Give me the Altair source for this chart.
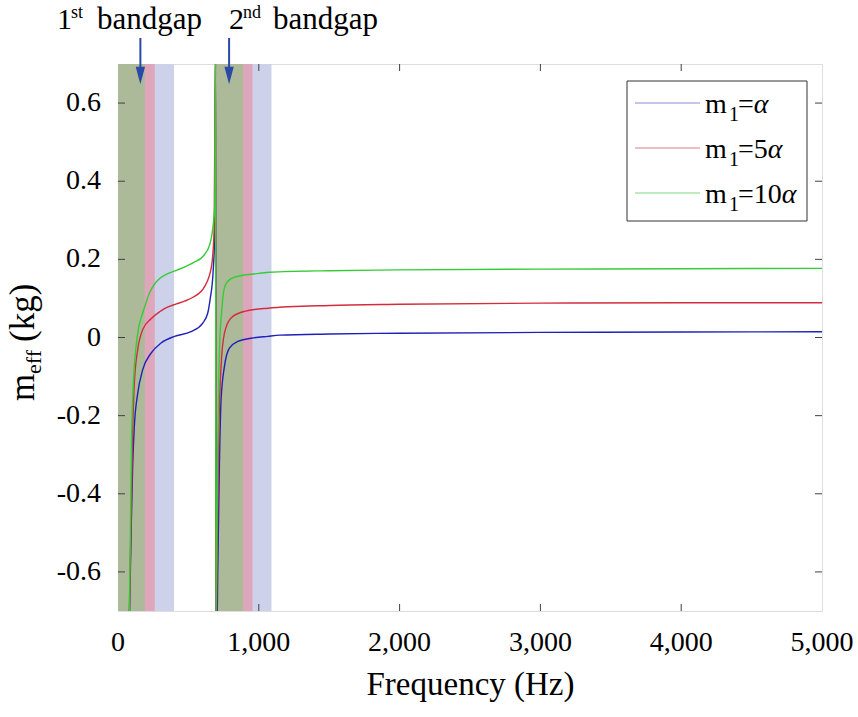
import altair as alt
import pandas as pd

SERIF = "Liberation Serif"

# ---------------- data ----------------
series_names = ["m1=α", "m1=5α", "m1=10α"]
series_colors = ["#2020B8", "#D42C3C", "#36CC36"]
legend_colors = ["#8C8CD8", "#E07C88", "#7CDC7C"]
legend_coefs = ["", "5", "10"]

# m1 = alpha (blue)
f_blue = [78, 82, 93, 104, 116, 140, 175, 235, 306, 401, 519, 602, 637, 654, 675, 687, 693,
          695, 704, 709, 720, 732, 756, 791, 851, 945, 1064, 1150, 1500, 2000, 3000, 4000, 5000]
v_blue = [-0.75, -0.70, -0.50, -0.33, -0.228, -0.143, -0.083, -0.040, -0.014, 0.003, 0.015, 0.037, 0.062, 0.097, 0.165, 0.268, 0.75,
          -0.75, -0.72, -0.586, -0.33, -0.16, -0.074, -0.027, -0.010, -0.002, 0.003, 0.006, 0.009, 0.011, 0.013, 0.014, 0.0146]

# m1 = 5 alpha (red)
f_red = [77, 81, 91, 104, 116, 140, 175, 235, 296, 330, 415, 472, 533, 616, 664, 682, 693,
         695, 700, 708, 716, 732, 756, 803, 898, 1064, 1500, 2000, 3000, 4000, 5000]
v_red = [-0.75, -0.70, -0.50, -0.245, -0.117, -0.031, 0.020, 0.048, 0.066, 0.074, 0.086, 0.093, 0.103, 0.131, 0.182, 0.268, 0.75,
         -0.75, -0.70, -0.45, -0.245, -0.074, 0.011, 0.050, 0.067, 0.075, 0.082, 0.085, 0.088, 0.089, 0.089]

# m1 = 10 alpha (green)
f_green = [76, 80, 88, 97, 106, 116, 140, 175, 200, 225, 260, 296, 350, 415, 533, 604, 652, 675, 687, 693,
           695, 700, 708, 715, 722, 737, 758, 800, 870, 1000, 1078, 1500, 2000, 3000, 4000, 5000]
v_green = [-0.75, -0.70, -0.50, -0.245, -0.14, -0.074, 0.011, 0.062, 0.090, 0.115, 0.137, 0.151, 0.163, 0.172, 0.191, 0.208, 0.238, 0.285, 0.336, 0.75,
           -0.75, -0.60, -0.30, -0.12, -0.02, 0.07, 0.13, 0.150, 0.158, 0.164, 0.167, 0.171, 0.173, 0.175, 0.176, 0.177]

# band gaps (Hz) for each series
band_start = [0, 694, 0, 694, 0, 694]
band_end = [398, 1090, 261, 955, 190, 888]
band_colors = ["#CDD2EA", "#CDD2EA", "#DDA6BA", "#DDA6BA", "#ADBA9A", "#ADBA9A"]

arrow_freq = [159, 789]

x_ticks = [0, 1000, 2000, 3000, 4000, 5000]
x_tick_labels = ["0", "1,000", "2,000", "3,000", "4,000", "5,000"]
y_ticks = [-0.6, -0.4, -0.2, 0, 0.2, 0.4, 0.6]
y_tick_labels = ["-0.6", "-0.4", "-0.2", "0", "0.2", "0.4", "0.6"]

# ---------------- tables ----------------
lines_df = pd.concat([
    pd.DataFrame({"f": f_blue, "v": v_blue, "s": series_names[0]}),
    pd.DataFrame({"f": f_red, "v": v_red, "s": series_names[1]}),
    pd.DataFrame({"f": f_green, "v": v_green, "s": series_names[2]}),
], ignore_index=True)
bands_df = pd.DataFrame({"f": band_start, "b": band_end, "v": [-0.7] * 6, "v2": [0.7] * 6,
                         "c": band_colors, "k": range(len(band_start))})
arrow_df = pd.DataFrame({"f": arrow_freq})
xt_df = pd.DataFrame({"f": x_ticks[1:-1]})
yt_df = pd.DataFrame({"v": y_ticks})
xl_df = pd.DataFrame({"f": x_ticks, "lab": x_tick_labels})
yl_df = pd.DataFrame({"v": y_ticks, "lab": y_tick_labels})
dummy = pd.DataFrame({"a": [0]})

W, H = 704, 547
xs = alt.Scale(domain=[0, 5000], nice=False, zero=False)
ys = alt.Scale(domain=[-0.7, 0.7], nice=False, zero=False)

x_axis = alt.Axis(
    values=x_ticks, labels=False, ticks=False, domain=False, grid=False,
    title="Frequency (Hz)", titleFont=SERIF, titleFontSize=33, titleFontWeight="normal",
    titleColor="black", titleY=83, titleBaseline="alphabetic")
y_axis = alt.Axis(values=y_ticks, labels=False, ticks=False, domain=False, grid=False, title=None)

XF = alt.X("f:Q", scale=xs, axis=x_axis)
YV = alt.Y("v:Q", scale=ys, axis=y_axis)

bands = alt.Chart(bands_df).mark_rect(opacity=1).encode(
    x=XF, x2="b:Q", y=YV, y2="v2:Q",
    color=alt.Color("c:N", scale=None), order="k:Q")

layers = [bands]
for name, col in zip(series_names, series_colors):
    layers.append(
        alt.Chart(lines_df).transform_filter(alt.datum.s == name)
        .mark_line(clip=True, strokeWidth=1.4, color=col, interpolate="monotone")
        .encode(x=XF, y=YV, order="f:Q"))

tick_c = "#404040"
layers += [
    alt.Chart(xt_df).mark_rule(color=tick_c).encode(x=XF, y=alt.value(H), y2=alt.value(H - 7)),
    alt.Chart(xt_df).mark_rule(color=tick_c).encode(x=XF, y=alt.value(0), y2=alt.value(7)),
    alt.Chart(yt_df).mark_rule(color=tick_c).encode(y=YV, x=alt.value(0), x2=alt.value(7)),
    alt.Chart(yt_df).mark_rule(color=tick_c).encode(y=YV, x=alt.value(W - 7), x2=alt.value(W)),
]

# tick labels
layers += [
    alt.Chart(xl_df).mark_text(font=SERIF, fontSize=28, color="black", align="center",
                               baseline="alphabetic").encode(
        x=XF, y=alt.value(H + 40), text="lab:N"),
    alt.Chart(yl_df).mark_text(font=SERIF, fontSize=28, color="black", align="right",
                               baseline="middle").encode(
        y=YV, x=alt.value(-17), text="lab:N"),
]

arrow_c = "#2A48A8"
layers += [
    alt.Chart(arrow_df).mark_rule(color=arrow_c, strokeWidth=2).encode(
        x=XF, y=alt.value(-26), y2=alt.value(6)),
    alt.Chart(arrow_df).mark_point(shape="M-0.53,-1L0.53,-1L0,1Z", filled=True, opacity=1,
                                   color=arrow_c, size=310).encode(
        x=XF, y=alt.value(11.5)),
]


def txt(s, x, y, size, style="normal", angle=0):
    return alt.Chart(dummy).mark_text(text=s, font=SERIF, fontSize=size, fontStyle=style,
                                      align="left", baseline="alphabetic", angle=angle,
                                      color="black").encode(x=alt.value(x), y=alt.value(y))


# top annotations
layers += [
    txt("1", -61, -35, 30), txt("st", -47, -46, 18), txt("bandgap", -21, -35, 31),
    txt("2", 111, -35, 30), txt("nd", 125, -46, 18), txt("bandgap", 155, -35, 31),
]

# y axis title m_eff (kg)
layers += [
    txt("m", -84, 337, 35, angle=270),
    txt("eff", -77, 310, 22, angle=270),
    txt("(kg)", -84, 278, 35, angle=270),
]

# legend
layers.append(alt.Chart(dummy).mark_rect(fill="white", stroke="#333333", strokeWidth=1).encode(
    x=alt.value(509), x2=alt.value(689), y=alt.value(17), y2=alt.value(157)))
for i, (col, coef) in enumerate(zip(legend_colors, legend_coefs)):
    yy = 39 + 45 * i
    rest = "=" + coef
    w_rest = 15.8 + 14 * len(coef)
    layers += [
        alt.Chart(dummy).mark_rule(color=col, strokeWidth=1.2).encode(
            x=alt.value(517), x2=alt.value(582), y=alt.value(yy)),
        txt("m", 587, yy + 10, 28),
        txt("1", 611, yy + 18, 20),
        txt(rest, 620, yy + 10, 28),
        txt("α", 620 + w_rest, yy + 10, 28, style="italic"),
    ]

chart = alt.layer(*layers).properties(
    width=W, height=H, autosize="none",
    padding={"left": 118, "top": 64, "right": 36, "bottom": 106},
).configure_view(stroke="#404040", strokeWidth=1.2).configure(background="white")

chart.save("out.html", embed_options={"renderer": "svg", "actions": False})
